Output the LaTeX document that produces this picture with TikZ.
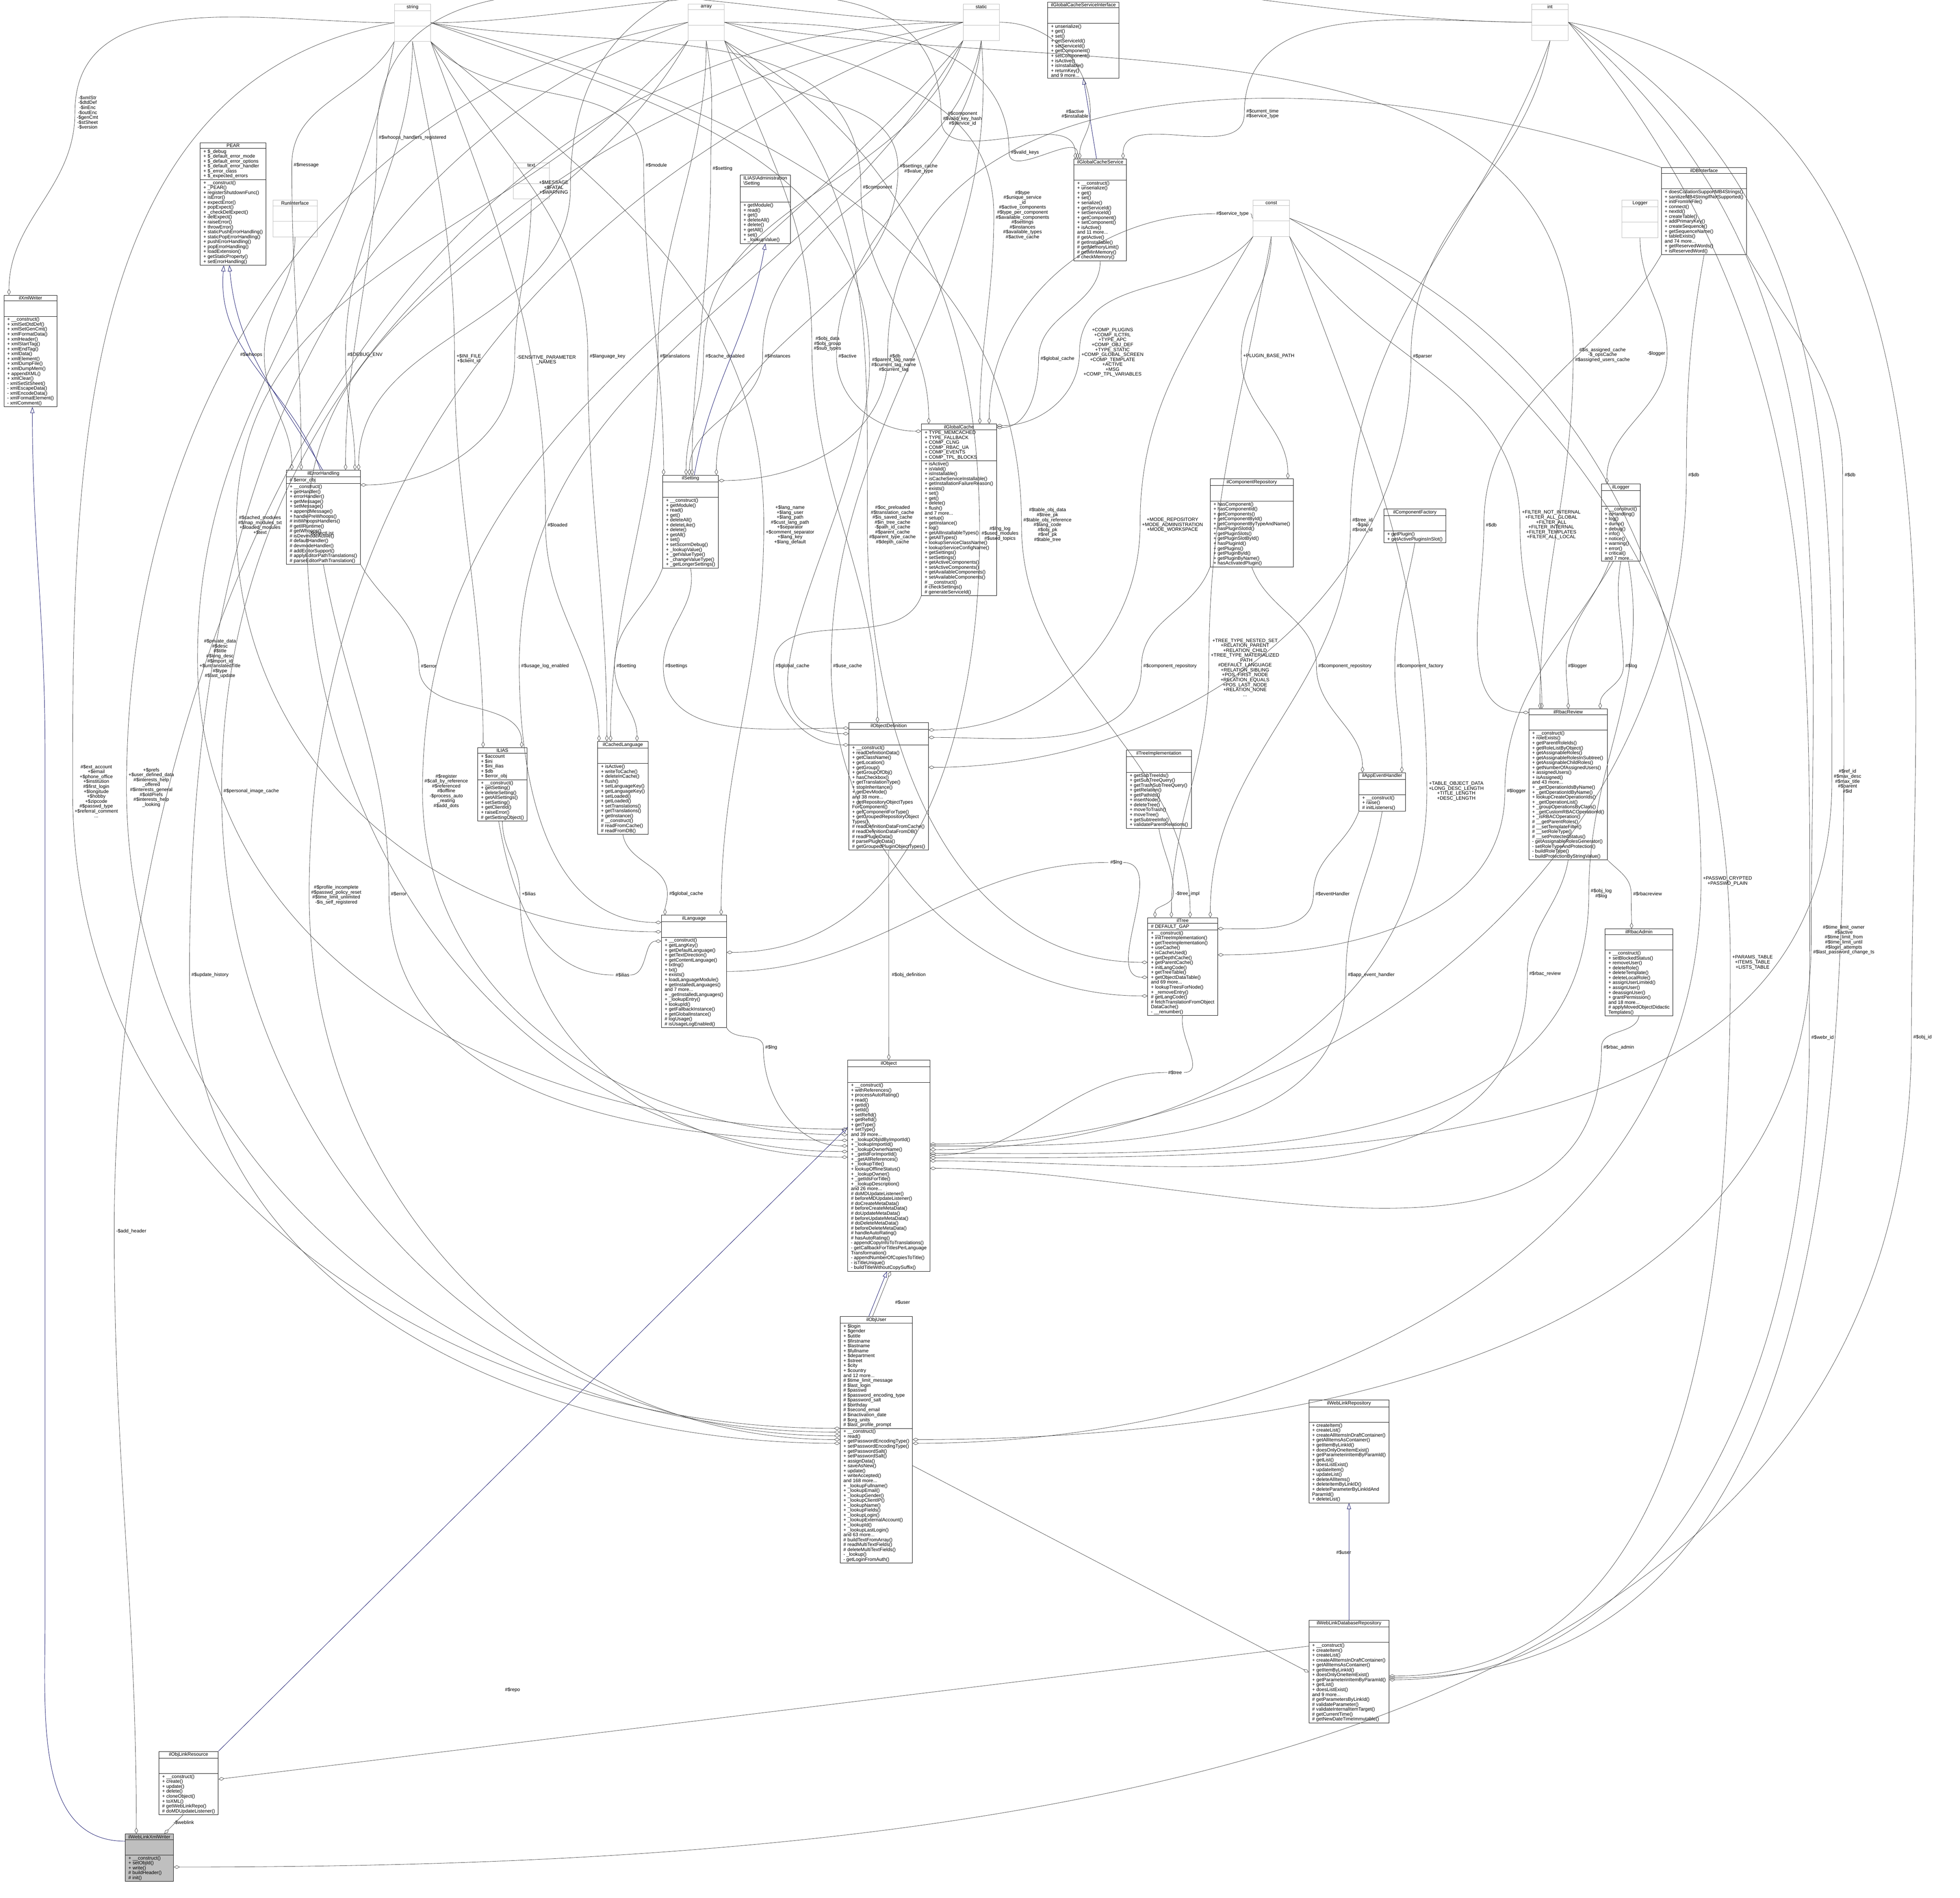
\documentclass[tikz,border=0pt]{standalone}
\usepackage{fontspec}
\setmainfont{Liberation Sans}
\usetikzlibrary{shapes.multipart,arrows.meta}
\definecolor{mblue}{HTML}{191970}
\definecolor{edg}{HTML}{404040}
\def\sfac{0.1495pt}
\tikzset{
  cls/.style={rectangle split, rectangle split parts=3, draw=black, line width=0.15pt,
    rectangle split ignore empty parts=false, rectangle split empty part height=1.35pt,
    rectangle split part align={center,left,left}, align=left, fill=white,
    inner xsep=1.3pt, inner ysep=0.37pt, font=\fontsize{1.93}{1.97}\selectfont, anchor=north west},
  sm/.style={rectangle split, rectangle split parts=3, draw=gray!55, line width=0.15pt,
    rectangle split ignore empty parts=false, rectangle split empty part height=1.65pt,
    minimum width=14.5pt, fill=white, inner ysep=0.37pt, font=\fontsize{1.93}{1.97}\selectfont, anchor=north},
  lab/.style={align=center, inner sep=0.15pt, font=\fontsize{1.93}{1.97}\selectfont},
  agg/.style={draw=edg, line width=0.13pt, -{Diamond[open,length=2.4pt,width=1.35pt]}},
  inh/.style={draw=mblue, line width=0.15pt, -{Triangle[open,length=2.4pt,width=1.65pt]}},
}
\begin{document}
\begin{tikzpicture}[x=0.5pt,y=0.5pt]
\useasboundingbox (0,0) rectangle (1568,-1518.3);
\fill[white] (0,0) rectangle (1568,-1518.3);

% ---------- small type boxes ----------
\node[sm] (string) at (330,-3) {string\nodepart{second}\nodepart{third}};
\node[sm] (array) at (565,-3) {array\nodepart{second}\nodepart{third}};
\node[sm] (static) at (785,-3) {static\nodepart{second}\nodepart{third}};
\node[sm] (int) at (1240,-3) {int\nodepart{second}\nodepart{third}};
\node[sm] (text) at (425,-130) {text\nodepart{second}\nodepart{third}};
\node[sm] (RunInterface) at (236,-160) {RunInterface\nodepart{second}\nodepart{third}};
\node[sm] (const) at (1017,-160) {const\nodepart{second}\nodepart{third}};
\node[sm] (Logger) at (1312,-160) {Logger\nodepart{second}\nodepart{third}};

% ---------- classes ----------
\node[cls] (ilGlobalCacheServiceInterface) at (838,-1.5) {ilGlobalCacheServiceInterface\nodepart{second}\nodepart{third}+ unserialize()\\+ get()\\+ set()\\+ getServiceId()\\+ setServiceId()\\+ getComponent()\\+ setComponent()\\+ isActive()\\+ isInstallable()\\+ returnKey()\\and 9 more...};

\node[cls] (ilGlobalCacheService) at (859,-127) {ilGlobalCacheService\nodepart{second}\nodepart{third}+ \_\_construct()\\+ unserialize()\\+ get()\\+ set()\\+ serialize()\\+ getServiceId()\\+ setServiceId()\\+ getComponent()\\+ setComponent()\\+ isActive()\\and 11 more...\\\# getActive()\\\# getInstallable()\\\# getMemoryLimit()\\\# getMinMemory()\\\# checkMemory()};

\node[cls] (PEAR) at (160,-114) {PEAR\nodepart{second}+ \$\_debug\\+ \$\_default\_error\_mode\\+ \$\_default\_error\_options\\+ \$\_default\_error\_handler\\+ \$\_error\_class\\+ \$\_expected\_errors\nodepart{third}+ \_\_construct()\\+ \_PEAR()\\+ registerShutdownFunc()\\+ isError()\\+ expectError()\\+ popExpect()\\+ \_checkDelExpect()\\+ delExpect()\\+ raiseError()\\+ throwError()\\+ staticPushErrorHandling()\\+ staticPopErrorHandling()\\+ pushErrorHandling()\\+ popErrorHandling()\\+ loadExtension()\\+ getStaticProperty()\\+ setErrorHandling()};

\node[cls] (ilXmlWriter) at (3,-236) {ilXmlWriter\nodepart{second}\nodepart{third}+ \_\_construct()\\+ xmlSetDtdDef()\\+ xmlSetGenCmt()\\+ xmlFormatData()\\+ xmlHeader()\\+ xmlStartTag()\\+ xmlEndTag()\\+ xmlData()\\+ xmlElement()\\+ xmlDumpFile()\\+ xmlDumpMem()\\+ appendXML()\\+ xmlClear()\\- xmlSetStSheet()\\- xmlEscapeData()\\- xmlEncodeData()\\- xmlFormatElement()\\- xmlComment()};

\node[cls] (ilAdmSetting) at (592,-140) {ILIAS\textbackslash Administration\\\textbackslash Setting\nodepart{second}\nodepart{third}+ getModule()\\+ read()\\+ get()\\+ deleteAll()\\+ delete()\\+ getAll()\\+ set()\\+ \_lookupValue()};

\node[cls] (ilDBInterface) at (1329,-134) {ilDBInterface\nodepart{second}\nodepart{third}+ doesCollationSupportMB4Strings()\\+ sanitizeMB4StringIfNotSupported()\\+ initFromIniFile()\\+ connect()\\+ nextId()\\+ createTable()\\+ addPrimaryKey()\\+ createSequence()\\+ getSequenceName()\\+ tableExists()\\and 74 more...\\+ getReservedWords()\\+ isReservedWord()};

\node[cls] (ilErrorHandling) at (229,-376) {ilErrorHandling\nodepart{second}\# \$error\_obj\nodepart{third}+ \_\_construct()\\+ getHandler()\\+ errorHandler()\\+ getMessage()\\+ setMessage()\\+ appendMessage()\\+ handlePreWhoops()\\\# initWhoopsHandlers()\\\# getIlRuntime()\\\# getWhoops()\\\# isDevmodeActive()\\\# defaultHandler()\\\# devmodeHandler()\\\# addEditorSupport()\\\# applyEditorPathTranslations()\\\# parseEditorPathTranslation()};

\node[cls] (ilSetting) at (530,-380) {ilSetting\nodepart{second}\nodepart{third}+ \_\_construct()\\+ getModule()\\+ read()\\+ get()\\+ deleteAll()\\+ deleteLike()\\+ delete()\\+ getAll()\\+ set()\\+ setScormDebug()\\+ \_lookupValue()\\+ \_getValueType()\\+ \_changeValueType()\\+ \_getLongerSettings()};

\node[cls] (ilGlobalCache) at (737,-339) {ilGlobalCache\nodepart{second}+ TYPE\_MEMCACHED\\+ TYPE\_FALLBACK\\+ COMP\_CLNG\\+ COMP\_RBAC\_UA\\+ COMP\_EVENTS\\+ COMP\_TPL\_BLOCKS\nodepart{third}+ isActive()\\+ isValid()\\+ isInstallable()\\+ isCacheServiceInstallable()\\+ getInstallationFailureReason()\\+ exists()\\+ set()\\+ get()\\+ delete()\\+ flush()\\and 7 more...\\+ setup()\\+ getInstance()\\+ log()\\+ getAllInstallableTypes()\\+ getAllTypes()\\+ lookupServiceClassName()\\+ lookupServiceConfigName()\\+ getSettings()\\+ setSettings()\\+ getActiveComponents()\\+ setActiveComponents()\\+ getAvailableComponents()\\+ setAvailableComponents()\\\# \_\_construct()\\\# checkSettings()\\\# generateServiceId()};

\node[cls] (ilComponentRepository) at (968,-383) {ilComponentRepository\nodepart{second}\nodepart{third}+ hasComponent()\\+ hasComponentId()\\+ getComponents()\\+ getComponentById()\\+ getComponentByTypeAndName()\\+ hasPluginSlotId()\\+ getPluginSlots()\\+ getPluginSlotById()\\+ hasPluginId()\\+ getPlugins()\\+ getPluginById()\\+ getPluginByName()\\+ hasActivatedPlugin()};

\node[cls] (ilComponentFactory) at (1107,-407) {ilComponentFactory\nodepart{second}\nodepart{third}+ getPlugin()\\+ getActivePluginsInSlot()};

\node[cls] (ilLogger) at (1281,-387) {ilLogger\nodepart{second}\nodepart{third}+ \_\_construct()\\+ isHandling()\\+ log()\\+ dump()\\+ debug()\\+ info()\\+ notice()\\+ warning()\\+ error()\\+ critical()\\and 7 more...};

\node[cls] (ilRbacReview) at (1223,-567) {ilRbacReview\nodepart{second}\nodepart{third}+ \_\_construct()\\+ roleExists()\\+ getParentRoleIds()\\+ getRoleListByObject()\\+ getAssignableRoles()\\+ getAssignableRolesInSubtree()\\+ getAssignableChildRoles()\\+ getNumberOfAssignedUsers()\\+ assignedUsers()\\+ isAssigned()\\and 43 more...\\+ \_getOperationIdsByName()\\+ \_getOperationIdByName()\\+ lookupCreateOperationIds()\\+ \_getOperationList()\\+ \_groupOperationsByClass()\\+ \_getCustomRBACOperationId()\\+ \_isRBACOperation()\\\# \_\_getParentRoles()\\\# \_\_setTemplateFilter()\\\# \_\_setRoleType()\\\# \_\_setProtectedStatus()\\- getAssignableRolesGenerator()\\- setRoleTypeAndProtection()\\- buildRoleType()\\- buildProtectionByStringValue()};

\node[cls] (ilRbacAdmin) at (1284,-743) {ilRbacAdmin\nodepart{second}\nodepart{third}+ \_\_construct()\\+ setBlockedStatus()\\+ removeUser()\\+ deleteRole()\\+ deleteTemplate()\\+ deleteLocalRole()\\+ assignUserLimited()\\+ assignUser()\\+ deassignUser()\\+ grantPermission()\\and 18 more...\\\# applyMovedObjectDidactic\\Templates()};

\node[cls] (ILIAS) at (382,-598) {ILIAS\nodepart{second}+ \$account\\+ \$ini\\+ \$ini\_ilias\\+ \$db\\+ \$error\_obj\nodepart{third}+ \_\_construct()\\+ getSetting()\\+ deleteSetting()\\+ getAllSettings()\\+ setSetting()\\+ getClientId()\\+ raiseError()\\\# getSettingObject()};

\node[cls] (ilCachedLanguage) at (478,-593) {ilCachedLanguage\nodepart{second}\nodepart{third}+ isActive()\\+ writeToCache()\\+ deleteInCache()\\+ flush()\\+ setLanguageKey()\\+ getLanguageKey()\\+ setLoaded()\\+ getLoaded()\\+ setTranslations()\\+ getTranslations()\\+ getInstance()\\\# \_\_construct()\\\# readFromCache()\\\# readFromDB()};

\node[cls] (ilObjectDefinition) at (679,-578) {ilObjectDefinition\nodepart{second}\nodepart{third}+ \_\_construct()\\+ readDefinitionData()\\+ getClassName()\\+ getLocation()\\+ getGroup()\\+ getGroupOfObj()\\+ hasCheckbox()\\+ getTranslationType()\\+ stopInheritance()\\+ getDevMode()\\and 38 more...\\+ getRepositoryObjectTypes\\ForComponent()\\+ getComponentForType()\\+ getGroupedRepositoryObject\\Types()\\\# readDefinitionDataFromCache()\\\# readDefinitionDataFromDB()\\\# readPluginData()\\\# parsePluginData()\\\# getGroupedPluginObjectTypes()};

\node[cls] (ilTreeImplementation) at (901,-600) {ilTreeImplementation\nodepart{second}\nodepart{third}+ getSubTreeIds()\\+ getSubTreeQuery()\\+ getTrashSubTreeQuery()\\+ getRelation()\\+ getPathIds()\\+ insertNode()\\+ deleteTree()\\+ moveToTrash()\\+ moveTree()\\+ getSubtreeInfo()\\+ validateParentRelations()};

\node[cls] (ilAppEventHandler) at (1087,-618) {ilAppEventHandler\nodepart{second}\nodepart{third}+ \_\_construct()\\+ raise()\\\# initListeners()};

\node[cls] (ilTree) at (918,-734) {ilTree\nodepart{second}\# DEFAULT\_GAP\nodepart{third}+ \_\_construct()\\+ initTreeImplementation()\\+ getTreeImplementation()\\+ useCache()\\+ isCacheUsed()\\+ getDepthCache()\\+ getParentCache()\\+ initLangCode()\\+ getTreeTable()\\+ getObjectDataTable()\\and 69 more...\\+ lookupTreesForNode()\\+ \_removeEntry()\\\# getLangCode()\\\# fetchTranslationFromObject\\DataCache()\\- \_\_renumber()};

\node[cls] (ilLanguage) at (529,-732) {ilLanguage\nodepart{second}\nodepart{third}+ \_\_construct()\\+ getLangKey()\\+ getDefaultLanguage()\\+ getTextDirection()\\+ getContentLanguage()\\+ txtlng()\\+ txt()\\+ exists()\\+ loadLanguageModule()\\+ getInstalledLanguages()\\and 7 more...\\+ \_getInstalledLanguages()\\+ \_lookupEntry()\\+ lookupId()\\+ getFallbackInstance()\\+ getGlobalInstance()\\\# logUsage()\\\# isUsageLogEnabled()};

\node[cls] (ilObject) at (678,-848) {ilObject\nodepart{second}\nodepart{third}+ \_\_construct()\\+ withReferences()\\+ processAutoRating()\\+ read()\\+ getId()\\+ setId()\\+ setRefId()\\+ getRefId()\\+ getType()\\+ setType()\\and 39 more...\\+ \_lookupObjIdByImportId()\\+ \_lookupImportId()\\+ \_lookupOwnerName()\\+ \_getIdForImportId()\\+ \_getAllReferences()\\+ \_lookupTitle()\\+ lookupOfflineStatus()\\+ \_lookupOwner()\\+ \_getIdsForTitle()\\+ \_lookupDescription()\\and 26 more...\\\# doMDUpdateListener()\\\# beforeMDUpdateListener()\\\# doCreateMetaData()\\\# beforeCreateMetaData()\\\# doUpdateMetaData()\\\# beforeUpdateMetaData()\\\# doDeleteMetaData()\\\# beforeDeleteMetaData()\\\# handleAutoRating()\\\# hasAutoRating()\\- appendCopyInfoToTranslations()\\- getCallbackForTitlesPerLanguage\\Transformation()\\- appendNumberOfCopiesToTitle()\\- isTitleUnique()\\- buildTitleWithoutCopySuffix()};

\node[cls] (ilObjUser) at (672,-1053) {ilObjUser\nodepart{second}+ \$login\\+ \$gender\\+ \$utitle\\+ \$firstname\\+ \$lastname\\+ \$fullname\\+ \$department\\+ \$street\\+ \$city\\+ \$country\\and 12 more...\\\# \$time\_limit\_message\\\# \$last\_login\\\# \$passwd\\\# \$password\_encoding\_type\\\# \$password\_salt\\\# \$birthday\\\# \$second\_email\\\# \$inactivation\_date\\\# \$org\_units\\\# \$last\_profile\_prompt\nodepart{third}+ \_\_construct()\\+ read()\\+ getPasswordEncodingType()\\+ setPasswordEncodingType()\\+ getPasswordSalt()\\+ setPasswordSalt()\\+ assignData()\\+ saveAsNew()\\+ update()\\+ writeAccepted()\\and 168 more...\\+ \_lookupFullname()\\+ \_lookupEmail()\\+ \_lookupGender()\\+ \_lookupClientIP()\\+ \_lookupName()\\+ \_lookupFields()\\+ \_lookupLogin()\\+ \_lookupExternalAccount()\\+ \_lookupId()\\+ \_lookupLastLogin()\\and 63 more...\\\# buildTextFromArray()\\\# readMultiTextFields()\\\# deleteMultiTextFields()\\- \_lookup()\\- getLoginFromAuth()};

\node[cls] (ilWebLinkRepository) at (1047,-1120) {ilWebLinkRepository\nodepart{second}\nodepart{third}+ createItem()\\+ createList()\\+ createAllItemsInDraftContainer()\\+ getAllItemsAsContainer()\\+ getItemByLinkId()\\+ doesOnlyOneItemExist()\\+ getParameterinItemByParamId()\\+ getList()\\+ doesListExist()\\+ updateItem()\\+ updateList()\\+ deleteAllItems()\\+ deleteItemByLinkID()\\+ deleteParameterByLinkIdAnd\\ParamId()\\+ deleteList()};

\node[cls] (ilWebLinkDatabaseRepository) at (1047,-1296) {ilWebLinkDatabaseRepository\nodepart{second}\nodepart{third}+ \_\_construct()\\+ createItem()\\+ createList()\\+ createAllItemsInDraftContainer()\\+ getAllItemsAsContainer()\\+ getItemByLinkId()\\+ doesOnlyOneItemExist()\\+ getParameterinItemByParamId()\\+ getList()\\+ doesListExist()\\and 9 more...\\\# getParametersByLinkId()\\\# validateParameter()\\\# validateInternalItemTarget()\\\# getCurrentTime()\\\# getNewDateTimeImmutable()};

\node[cls] (ilObjLinkResource) at (127,-1401) {ilObjLinkResource\nodepart{second}\nodepart{third}+ \_\_construct()\\+ create()\\+ update()\\+ delete()\\+ cloneObject()\\+ toXML()\\\# getWebLinkRepo()\\\# doMDUpdateListener()};

\node[cls, fill=gray!50] (ilWebLinkXmlWriter) at (100,-1467) {ilWebLinkXmlWriter\nodepart{second}\nodepart{third}+ \_\_construct()\\+ setObjId()\\+ write()\\\# buildHeader()\\\# init()};

% ---------- labels ----------
\node[lab] (l1) at (70,-90) {-\$xmlStr\\-\$dtdDef\\-\$inEnc\\-\$outEnc\\-\$genCmt\\-\$stSheet\\-\$version};
\node[lab] (l2) at (201,-284) {\#\$whoops};
\node[lab] (l3) at (292,-284) {\#\$DEBUG\_ENV};
\node[lab] (l4) at (330,-110) {\#\$whoops\_handlers\_registered};
\node[lab] (l5) at (245,-132) {\#\$message};
\node[lab] (l6) at (375,-287) {+\$INI\_FILE\\+\$client\_id};
\node[lab] (l7) at (437,-288) {-SENSITIVE\_PARAMETER\\\_NAMES};
\node[lab] (l8) at (443,-150) {+\$MESSAGE\\+\$FATAL\\+\$WARNING};
\node[lab] (l9) at (486,-285) {\#\$language\_key};
\node[lab] (l10) at (540,-285) {\#\$translations};
\node[lab] (l11) at (446,-420) {\#\$loaded};
\node[lab] (l12) at (580,-285) {\#\$cache\_disabled};
\node[lab] (l13) at (622,-285) {\#\$instances};
\node[lab] (l14) at (678,-285) {\#\$active};
\node[lab] (l15) at (525,-132) {\#\$module};
\node[lab] (l16) at (578,-135) {\#\$setting};
\node[lab] (l17) at (735,-135) {\#\$settings\_cache\\\#\$value\_type};
\node[lab] (l18) at (770,-95) {\#\$component\\\#\$valid\_key\_hash\\\#\$service\_id};
\node[lab] (l19) at (820,-122) {\#\$valid\_keys};
\node[lab] (l20) at (860,-91) {\#\$active\\\#\$installable};
\node[lab] (l21) at (1010,-91) {\#\$current\_time\\\#\$service\_type};
\node[lab] (l22) at (986,-171) {\#\$service\_type};
\node[lab] (l23) at (702,-150) {\#\$component};
\node[lab] (l24) at (818,-172) {\#\$type\\\#\$unique\_service\\\_id\\\#\$active\_components\\\#\$type\_per\_component\\\#\$available\_components\\\#\$settings\\\#\$instances\\\#\$available\_types\\\#\$active\_cache};
\node[lab] (l25) at (846,-287) {\#\$global\_cache};
\node[lab] (l26) at (716,-285) {\#\$db};
\node[lab] (l28) at (662,-275) {\#\$obj\_data\\\#\$obj\_group\\\#\$sub\_types};
\node[lab] (l27b) at (715,-292) {\#\$parent\_tag\_name\\\#\$current\_tag\_name\\\#\$current\_tag};
\node[lab] (l29) at (890,-282) {+COMP\_PLUGINS\\+COMP\_ILCTRL\\+TYPE\_APC\\+COMP\_OBJ\_DEF\\+TYPE\_STATIC\\+COMP\_GLOBAL\_SCREEN\\+COMP\_TEMPLATE\\+ACTIVE\\+MSG\\+COMP\_TPL\_VARIABLES};
\node[lab] (l30) at (1015,-285) {+PLUGIN\_BASE\_PATH};
\node[lab] (l31) at (1138,-285) {\#\$parser};
\node[lab] (l32) at (1325,-283) {-\$logger};
\node[lab] (l33) at (1282,-284) {\#\$is\_assigned\_cache\\-\$\_opsCache\\\#\$assigned\_users\_cache};
\node[lab] (l34) at (1241,-420) {+FILTER\_NOT\_INTERNAL\\+FILTER\_ALL\_GLOBAL\\+FILTER\_ALL\\+FILTER\_INTERNAL\\+FILTER\_TEMPLATES\\+FILTER\_ALL\_LOCAL};
\node[lab] (l35) at (1193,-420) {\#\$db};
\node[lab] (l36) at (1262,-533) {\#\$logger};
\node[lab] (l37) at (1305,-533) {\#\$log};
\node[lab] (l38) at (1213,-633) {\#\$logger};
\node[lab] (l39) at (1281,-715) {\#\$obj\_log\\\#\$log};
\node[lab] (l40) at (1318,-715) {\#\$rbacreview};
\node[lab] (l41) at (1236,-779) {\#\$rbac\_review};
\node[lab] (l42) at (1295,-838) {\#\$rbac\_admin};
\node[lab] (l43) at (938,-420) {+MODE\_REPOSITORY\\+MODE\_ADMINISTRATION\\+MODE\_WORKSPACE};
\node[lab] (l44) at (1090,-420) {\#\$tree\_id\\-\$gap\\\#\$root\_id};
\node[lab] (l45) at (936,-533) {\#\$component\_repository};
\node[lab] (l46) at (1076,-533) {\#\$component\_repository};
\node[lab] (l47) at (1136,-533) {\#\$component\_factory};
\node[lab] (l48) at (996,-534) {+TREE\_TYPE\_NESTED\_SET\\+RELATION\_PARENT\\+RELATION\_CHILD\\+TREE\_TYPE\_MATERIALIZED\\\_PATH\\\#DEFAULT\_LANGUAGE\\+RELATION\_SIBLING\\+POS\_FIRST\_NODE\\+RELATION\_EQUALS\\+POS\_LAST\_NODE\\+RELATION\_NONE\\...};
\node[lab] (l49) at (1165,-633) {+TABLE\_OBJECT\_DATA\\+LONG\_DESC\_LENGTH\\+TITLE\_LENGTH\\+DESC\_LENGTH};
\node[lab] (l50) at (950,-715) {-\$tree\_impl};
\node[lab] (l51) at (1066,-715) {\#\$eventHandler};
\node[lab] (l52) at (1097,-780) {\#\$app\_event\_handler};
\node[lab] (l53) at (549,-715) {\#\$global\_cache};
\node[lab] (l54) at (423,-715) {+\$ilias};
\node[lab] (l55) at (498,-780) {\#\$ilias};
\node[lab] (l56) at (727,-780) {\#\$obj\_definition};
\node[lab] (l57) at (617,-838) {\#\$lng};
\node[lab] (l58) at (632,-420) {+\$lang\_name\\+\$lang\_user\\+\$lang\_path\\\#\$cust\_lang\_path\\+\$separator\\+\$comment\_separator\\+\$lang\_key\\+\$lang\_default};
\node[lab] (l59) at (714,-420) {\#\$oc\_preloaded\\\#\$translation\_cache\\\#\$is\_saved\_cache\\\#\$in\_tree\_cache\\-\$path\_id\_cache\\\#\$parent\_cache\\\#\$parent\_type\_cache\\\#\$depth\_cache};
\node[lab] (l60) at (436,-533) {\#\$usage\_log\_enabled};
\node[lab] (l61) at (501,-533) {\#\$setting};
\node[lab] (l62) at (541,-533) {\#\$settings};
\node[lab] (l63) at (634,-533) {\#\$global\_cache};
\node[lab] (l64) at (678,-533) {\#\$use\_cache};
\node[lab] (l65) at (343,-533) {\#\$error};
\node[lab] (l66) at (357,-633) {\#\$register\\\#\$call\_by\_reference\\\#\$referenced\\\#\$offline\\-\$process\_auto\\\_reating\\\#\$add\_dots};
\node[lab] (l67) at (77,-633) {\#\$ext\_account\\+\$email\\+\$phone\_office\\+\$institution\\\#\$first\_login\\+\$longitude\\+\$hobby\\+\$zipcode\\\#\$passwd\_type\\+\$referral\_comment\\...};
\node[lab] (l68) at (121,-630) {+\$prefs\\+\$user\_defined\_data\\\#\$interests\_help\\\_offered\\\#\$interests\_general\\\#\$oldPrefs\\\#\$interests\_help\\\_looking};
\node[lab] (l69) at (201,-633) {\#\$personal\_image\_cache};
\node[lab] (l70) at (269,-716) {\#\$profile\_incomplete\\\#\$passwd\_policy\_reset\\\#\$time\_limit\_unlimited\\-\$is\_self\_registered};
\node[lab] (l71) at (319,-715) {\#\$error};
\node[lab] (l72) at (168,-780) {\#\$update\_history};
\node[lab] (l73) at (257,-427) {-\$objectList};
\node[lab] (l74) at (208,-420) {\#\$cached\_modules\\\#\$map\_modules\_txt\\+\$loaded\_modules\\+\$text};
\node[lab] (l75) at (176,-527) {\#\$private\_data\\\#\$desc\\\#\$title\\\#\$long\_desc\\\#\$import\_id\\+\$untranslatedTitle\\\#\$type\\\#\$last\_update};
\node[lab] (l76) at (800,-427) {\#\$lng\_log\\\#\$used\_modules\\\#\$used\_topics};
\node[lab] (l77) at (838,-420) {\#\$table\_obj\_data\\\#\$tree\_pk\\\#\$table\_obj\_reference\\\#\$lang\_code\\\#\$obj\_pk\\\#\$ref\_pk\\\#\$table\_tree};
\node[lab] (l78) at (893,-690) {\#\$lng};
\node[lab] (l79) at (940,-858) {\#\$tree};
\node[lab] (l80) at (1478,-625) {\#\$ref\_id\\\#\$max\_desc\\\#\$max\_title\\\#\$parent\\\#\$id};
\node[lab] (l81) at (1475,-752) {\#\$time\_limit\_owner\\\#\$active\\\#\$time\_limit\_from\\\#\$time\_limit\_until\\\#\$login\_attempts\\\#\$last\_password\_change\_ts};
\node[lab] (l82) at (1458,-830) {\#\$webr\_id};
\node[lab] (l83) at (1538,-830) {\#\$obj\_id};
\node[lab] (l84) at (1382,-705) {+PASSWD\_CRYPTED\\+PASSWD\_PLAIN};
\node[lab] (l85) at (1402,-770) {+PARAMS\_TABLE\\+ITEMS\_TABLE\\+LISTS\_TABLE};
\node[lab] (l86) at (722,-1042) {\#\$user};
\node[lab] (l87) at (1075,-1242) {\#\$user};
\node[lab] (l88) at (410,-1352) {\#\$repo};
\node[lab] (l89) at (147,-1458) {-\$weblink};
\node[lab] (l90) at (105,-985) {-\$add\_header};
\node[lab] (l91) at (1355,-380) {\#\$db};
\node[lab] (l92) at (1480,-380) {\#\$db};

% ---------- inheritance ----------
\draw[inh] ([xshift=-10*\sfac]ilGlobalCacheService.north) -- (ilGlobalCacheServiceInterface.south);
\draw[inh] ([xshift=-8*\sfac]ilErrorHandling.north) to[out=110,in=-95] ([xshift=-25*\sfac]PEAR.south);
\draw[inh] ([xshift=-2*\sfac]ilErrorHandling.north) to[out=120,in=-85] ([xshift=-10*\sfac]PEAR.south);
\draw[inh] ([xshift=10*\sfac]ilSetting.north) to[out=80,in=-100] (ilAdmSetting.south);
\draw[inh] ([xshift=-20*\sfac]ilObjUser.north) -- ([xshift=-5*\sfac]ilObject.south);
\draw[inh] (ilWebLinkDatabaseRepository.north) -- (ilWebLinkRepository.south);
\draw[inh] (ilObjLinkResource.north east) -- ([yshift=-180*\sfac]ilObject.north west);
\draw[inh] ([yshift=-20*\sfac]ilWebLinkXmlWriter.north west) to[out=180,in=-90] (36,-1300) -- (36,-600) to[out=90,in=-90] ([xshift=5*\sfac]ilXmlWriter.south);

% ---------- aggregations ----------
\draw[agg] (string.west) to[out=180,in=90] ([xshift=-3*\sfac]l1.west) to[out=-90,in=90] ([xshift=14*\sfac]ilXmlWriter.north west);
\draw[agg] (RunInterface.south) to[out=-90,in=90] ([xshift=3*\sfac]l2.east) to[out=-90,in=90] ([xshift=15*\sfac]ilErrorHandling.north west);
\draw[agg] (string.south) to[out=-90,in=90] ([xshift=-3*\sfac]l3.west) to[out=-90,in=90] ([xshift=-15*\sfac]ilErrorHandling.north east);
\draw[agg] (static.west) to[out=180,in=90] ([xshift=-3*\sfac]l4.west) to[out=-90,in=90] ([xshift=-40*\sfac]ilErrorHandling.north east);
\draw[agg] (string.south west) to[out=-120,in=90] ([xshift=-3*\sfac]l5.west) to[out=-90,in=90] ([xshift=40*\sfac]ilErrorHandling.north west);
\draw[agg] (string.south) to[out=-80,in=90] ([xshift=-3*\sfac]l6.west) to[out=-90,in=90] ([xshift=15*\sfac]ILIAS.north west);
\draw[agg] (text.south) to[out=-90,in=90] ([xshift=-3*\sfac]l7.west) to[out=-90,in=0] ([yshift=-40*\sfac]ilErrorHandling.north east);
\draw[agg] (int.west) to[out=180,in=90] ([xshift=3*\sfac]l8.east) to[out=-90,in=90] ([xshift=-5*\sfac]ilErrorHandling.north east);
\draw[agg] (string.south east) to[out=-60,in=90] ([xshift=-3*\sfac]l9.west) to[out=-90,in=90] ([xshift=25*\sfac]ilCachedLanguage.north west);
\draw[agg] (array.south) to[out=-90,in=90] ([xshift=-3*\sfac]l10.west) to[out=-90,in=90] ([xshift=35*\sfac]ilCachedLanguage.north west);
\draw[agg] (string.south east) to[out=-70,in=90] ([xshift=-3*\sfac]l11.west) to[out=-90,in=90] ([xshift=4*\sfac]ilCachedLanguage.north west);
\draw[agg] (static.south west) to[out=-110,in=90] ([xshift=-3*\sfac]l12.west) to[out=-90,in=90] ([xshift=-12*\sfac]ilSetting.north);
\draw[agg] (static.south) to[out=-100,in=90] ([xshift=-3*\sfac]l13.west) to[out=-90,in=90] ([xshift=-3*\sfac]ilSetting.north);
\draw[agg] (static.south) to[out=-95,in=90] ([xshift=-3*\sfac]l14.west) to[out=-90,in=180] ([yshift=-20*\sfac]ilGlobalCache.north west);
\draw[agg] (string.south east) to[out=-50,in=90] ([xshift=-3*\sfac]l15.west) to[out=-90,in=90] ([xshift=3*\sfac]ilSetting.north west);
\draw[agg] (array.south) to[out=-80,in=90] ([xshift=-3*\sfac]l16.west) to[out=-90,in=90] ([xshift=4*\sfac]ilSetting.north);
\draw[agg] (array.south east) to[out=-60,in=90] ([xshift=-3*\sfac]l17.west) to[out=-90,in=90] ([xshift=-6*\sfac]ilSetting.north east);
\draw[agg] (string.east) to[out=0,in=90] ([xshift=-3*\sfac]l18.west) to[out=-90,in=90] ([xshift=4*\sfac]ilGlobalCacheService.north west);
\draw[agg] (array.east) to[out=0,in=90] ([xshift=-3*\sfac]l19.west) to[out=-90,in=90] ([xshift=10*\sfac]ilGlobalCacheService.north west);
\draw[agg] (static.east) to[out=0,in=90] ([xshift=3*\sfac]l20.east) to[out=-90,in=90] ([xshift=16*\sfac]ilGlobalCacheService.north west);
\draw[agg] (int.west) to[out=180,in=90] ([xshift=-3*\sfac]l21.west) to[out=-90,in=90] ([xshift=-10*\sfac]ilGlobalCacheService.north east);
\draw[agg] (const.west) to[out=180,in=0] ([xshift=3*\sfac]l22.east) (l22.west) to[out=180,in=90] ([xshift=-20*\sfac]ilGlobalCache.north east);
\draw[agg] (string.east) to[out=-10,in=90] ([xshift=-3*\sfac]l23.west) to[out=-90,in=90] ([xshift=20*\sfac]ilGlobalCache.north west);
\draw[agg] (array.east) to[out=-20,in=90] ([xshift=-3*\sfac]l24.west) to[out=-90,in=90] ([xshift=-45*\sfac]ilGlobalCache.north east);
\draw[agg] (ilGlobalCacheService.south) to[out=-90,in=90] ([xshift=-3*\sfac]l25.west) to[out=-90,in=0] ([yshift=-10*\sfac]ilGlobalCache.north east);
\draw[agg] (ilDBInterface.north west) to[out=160,in=90] ([xshift=-3*\sfac]l26.west) to[out=-90,in=0] ([yshift=-15*\sfac]ilSetting.north east);
\draw[agg] (array.south east) to[out=-70,in=90] ([xshift=-3*\sfac]l28.west) to[out=-90,in=90] ([xshift=-30*\sfac]ilObjectDefinition.north);
\draw[agg] (string.east) to[out=-20,in=90] ([xshift=-3*\sfac]l27b.west) to[out=-90,in=180] ([yshift=-30*\sfac]ilObjectDefinition.north west);
\draw[agg] (const.south west) to[out=-130,in=90] ([xshift=-3*\sfac]l29.west) to[out=-90,in=0] ([yshift=-5*\sfac]ilGlobalCache.north east);
\draw[agg] (const.south) to[out=-90,in=90] ([xshift=-3*\sfac]l30.west) to[out=-90,in=90] ([xshift=-15*\sfac]ilComponentRepository.north east);
\draw[agg] (int.south) to[out=-100,in=90] ([xshift=-3*\sfac]l31.west) to[out=-90,in=0] ([yshift=-120*\sfac]ilObjectDefinition.north east);
\draw[agg] (Logger.south) to[out=-90,in=90] ([xshift=3*\sfac]l32.east) to[out=-90,in=90] ([xshift=15*\sfac]ilLogger.north west);
\draw[agg] (array.east) to[out=-10,in=90] ([xshift=-3*\sfac]l33.west) to[out=-90,in=90] ([xshift=30*\sfac]ilRbacReview.north west);
\draw[agg] (const.south east) to[out=-60,in=90] ([xshift=-3*\sfac]l34.west) to[out=-90,in=90] ([xshift=35*\sfac]ilRbacReview.north west);
\draw[agg] (ilDBInterface.south west) to[out=-120,in=90] ([xshift=-3*\sfac]l35.west) to[out=-90,in=180] ([yshift=-10*\sfac]ilRbacReview.north west);
\draw[agg] ([xshift=-30*\sfac]ilLogger.south) to[out=-110,in=90] ([xshift=-3*\sfac]l36.west) to[out=-90,in=90] (ilRbacReview.north);
\draw[agg] (ilLogger.south) to[out=-100,in=90] ([xshift=-3*\sfac]l37.west) to[out=-90,in=90] ([xshift=-20*\sfac]ilRbacReview.north east);
\draw[agg] ([xshift=-20*\sfac]ilLogger.south) to[out=-120,in=90] ([xshift=-3*\sfac]l38.west) to[out=-90,in=0] ([yshift=-100*\sfac]ilTree.north east);
\draw[agg] ([xshift=20*\sfac]ilLogger.south) to[out=-80,in=90] ([xshift=-3*\sfac]l39.west) to[out=-90,in=0] ([yshift=-250*\sfac]ilObject.north east);
\draw[agg] (ilRbacReview.south east) to[out=-45,in=90] ([xshift=-3*\sfac]l40.west) to[out=-90,in=90] ([xshift=-20*\sfac]ilRbacAdmin.north);
\draw[agg] (ilRbacReview.south) to[out=-100,in=90] ([xshift=-3*\sfac]l41.west) to[out=-90,in=0] ([yshift=-270*\sfac]ilObject.north east);
\draw[agg] (ilRbacAdmin.south) to[out=-100,in=90] ([xshift=-3*\sfac]l42.west) to[out=-90,in=0] ([yshift=-290*\sfac]ilObject.north east);
\draw[agg] (const.south west) to[out=-120,in=90] ([xshift=-3*\sfac]l43.west) to[out=-90,in=0] ([yshift=-20*\sfac]ilObjectDefinition.north east);
\draw[agg] (int.south) to[out=-110,in=90] ([xshift=-3*\sfac]l44.west) to[out=-90,in=90] ([xshift=-20*\sfac]ilTree.north east);
\draw[agg] (ilComponentRepository.south west) to[out=-110,in=90] ([xshift=-3*\sfac]l45.west) to[out=-90,in=0] ([yshift=-40*\sfac]ilObjectDefinition.north east);
\draw[agg] (ilComponentRepository.south) to[out=-70,in=90] ([xshift=-3*\sfac]l46.west) to[out=-90,in=90] ([xshift=10*\sfac]ilAppEventHandler.north west);
\draw[agg] (ilComponentFactory.south) to[out=-100,in=90] ([xshift=-3*\sfac]l47.west) to[out=-90,in=90] ([xshift=-10*\sfac]ilAppEventHandler.north east);
\draw[agg] (const.south) to[out=-100,in=90] ([xshift=-3*\sfac]l48.west) to[out=-90,in=90] ([xshift=-30*\sfac]ilTree.north);
\draw[agg] (const.south east) to[out=-70,in=90] ([xshift=-3*\sfac]l49.west) to[out=-90,in=0] ([yshift=-240*\sfac]ilObject.north east);
\draw[agg] (ilTreeImplementation.south) to[out=-80,in=90] ([xshift=-3*\sfac]l50.west) to[out=-90,in=90] ([xshift=20*\sfac]ilTree.north west);
\draw[agg] (ilAppEventHandler.south west) to[out=-110,in=90] ([xshift=-3*\sfac]l51.west) to[out=-90,in=0] ([yshift=-30*\sfac]ilTree.north east);
\draw[agg] (ilAppEventHandler.south) to[out=-100,in=90] ([xshift=-3*\sfac]l52.west) to[out=-90,in=0] ([yshift=-230*\sfac]ilObject.north east);
\draw[agg] (ilCachedLanguage.south) to[out=-80,in=90] ([xshift=-3*\sfac]l53.west) to[out=-90,in=90] ([xshift=10*\sfac]ilLanguage.north west);
\draw[agg] (ILIAS.south) to[out=-90,in=90] ([xshift=-3*\sfac]l54.west) to[out=-90,in=180] ([yshift=-260*\sfac]ilObject.north west);
\draw[agg] ([xshift=-10*\sfac]ILIAS.south) to[out=-80,in=180] ([xshift=-3*\sfac]l55.west) (l55.east) to[out=0,in=180] ([yshift=-70*\sfac]ilLanguage.north west);
\draw[agg] (ilObjectDefinition.south) -- (ilObject.north);
\draw[agg] (ilLanguage.south east) to[out=-60,in=90] ([xshift=-3*\sfac]l57.west) to[out=-90,in=180] ([yshift=-230*\sfac]ilObject.north west);
\draw[agg] (string.south east) to[out=-40,in=90] ([xshift=-3*\sfac]l58.west) to[out=-90,in=90] ([xshift=-15*\sfac]ilLanguage.north east);
\draw[agg] (array.south east) to[out=-40,in=90] ([xshift=-3*\sfac]l59.west) to[out=-90,in=180] ([yshift=-120*\sfac]ilTree.north west);
\draw[agg] (static.south west) to[out=-120,in=90] ([xshift=-3*\sfac]l60.west) to[out=-90,in=180] ([yshift=-20*\sfac]ilLanguage.north west);
\draw[agg] (ilSetting.south west) to[out=-110,in=90] ([xshift=-3*\sfac]l61.west) to[out=-90,in=90] ([xshift=-30*\sfac]ilCachedLanguage.north east);
\draw[agg] (ilSetting.south) to[out=-80,in=90] ([xshift=-3*\sfac]l62.west) to[out=-90,in=180] ([yshift=-15*\sfac]ilObjectDefinition.north west);
\draw[agg] (ilGlobalCache.south west) to[out=-110,in=90] ([xshift=-3*\sfac]l63.west) to[out=-90,in=180] ([yshift=-60*\sfac]ilObjectDefinition.north west);
\draw[agg] (static.south) to[out=-85,in=90] ([xshift=-3*\sfac]l64.west) to[out=-90,in=180] ([yshift=-210*\sfac]ilTree.north west);
\draw[agg] (ilErrorHandling.south east) to[out=-60,in=90] ([xshift=-3*\sfac]l65.west) to[out=-90,in=90] ([xshift=-15*\sfac]ILIAS.north east);
\draw[agg] (static.south west) to[out=-130,in=90] ([xshift=-3*\sfac]l66.west) to[out=-90,in=180] ([yshift=-200*\sfac]ilObject.north west);
\draw[agg] (string.west) to[out=190,in=90] ([xshift=-3*\sfac]l67.west) to[out=-90,in=180] ([yshift=-300*\sfac]ilObjUser.north west);
\draw[agg] (array.west) to[out=190,in=90] ([xshift=-3*\sfac]l68.west) to[out=-90,in=180] ([yshift=-310*\sfac]ilObjUser.north west);
\draw[agg] (static.west) to[out=190,in=90] ([xshift=-3*\sfac]l69.west) to[out=-90,in=180] ([yshift=-320*\sfac]ilObjUser.north west);
\draw[agg] (static.west) to[out=200,in=90] ([xshift=-3*\sfac]l70.west) to[out=-90,in=180] ([yshift=-330*\sfac]ilObjUser.north west);
\draw[agg] (ilErrorHandling.south) to[out=-80,in=90] ([xshift=-3*\sfac]l71.west) to[out=-90,in=180] ([yshift=-215*\sfac]ilObject.north west);
\draw[agg] (array.west) to[out=200,in=90] ([xshift=-3*\sfac]l72.west) to[out=-90,in=180] ([yshift=-340*\sfac]ilObjUser.north west);
\draw[agg] (array.south west) to[out=-120,in=90] ([xshift=-3*\sfac]l73.west) to[out=-90,in=180] ([yshift=-245*\sfac]ilObject.north west);
\draw[agg] (array.south west) to[out=-130,in=90] ([xshift=-3*\sfac]l74.west) to[out=-90,in=180] ([yshift=-45*\sfac]ilLanguage.north west);
\draw[agg] (string.south west) to[out=-100,in=90] ([xshift=-3*\sfac]l75.west) to[out=-90,in=180] ([yshift=-185*\sfac]ilObject.north west);
\draw[agg] (array.south east) to[out=-30,in=90] ([xshift=-3*\sfac]l76.west) to[out=-90,in=0] ([yshift=-100*\sfac]ilLanguage.north east);
\draw[agg] (string.east) to[out=-15,in=90] ([xshift=-3*\sfac]l77.west) to[out=-90,in=90] ([xshift=20*\sfac]ilTree.north);
\draw[agg] (ilLanguage.east) to[out=0,in=180] ([xshift=-3*\sfac]l78.west) (l78.east) to[out=0,in=180] ([yshift=-160*\sfac]ilTree.north west);
\draw[agg] (ilTree.south) to[out=-100,in=0] ([xshift=3*\sfac]l79.east) (l79.west) to[out=180,in=0] ([yshift=-255*\sfac]ilObject.north east);
\draw[agg] (int.east) to[out=-30,in=90] ([xshift=-3*\sfac]l80.west) to[out=-90,in=0] ([yshift=-262*\sfac]ilObject.north east);
\draw[agg] (int.east) to[out=-40,in=90] ([xshift=-3*\sfac]l81.west) to[out=-90,in=0] ([yshift=-330*\sfac]ilObjUser.north east);
\draw[agg] (int.east) to[out=-50,in=90] ([xshift=-3*\sfac]l82.west) to[out=-90,in=0] ([yshift=-160*\sfac]ilWebLinkDatabaseRepository.north east);
\draw[agg] (int.east) to[out=-10,in=90] ([xshift=-3*\sfac]l83.west) to[out=-90,in=0] ([yshift=-25*\sfac]ilWebLinkXmlWriter.east);
\draw[agg] (const.east) to[out=-20,in=90] ([xshift=-3*\sfac]l84.west) to[out=-90,in=0] ([yshift=-340*\sfac]ilObjUser.north east);
\draw[agg] (const.east) to[out=-30,in=90] ([xshift=-3*\sfac]l85.west) to[out=-90,in=0] ([yshift=-150*\sfac]ilWebLinkDatabaseRepository.north east);
\draw[agg] ([xshift=-10*\sfac]ilObjUser.north) -- ([xshift=5*\sfac]ilObject.south);
\draw[agg] ([yshift=-400*\sfac]ilObjUser.north east) -- ([yshift=-140*\sfac]ilWebLinkDatabaseRepository.north west);
\draw[agg] ([yshift=-70*\sfac]ilWebLinkDatabaseRepository.north west) -- ([yshift=-75*\sfac]ilObjLinkResource.north east);
\draw[agg] ([xshift=-15*\sfac]ilObjLinkResource.south) -- ([xshift=40*\sfac]ilWebLinkXmlWriter.north);
\draw[agg] (static.west) to[out=180,in=90] ([xshift=-3*\sfac]l90.west) to[out=-90,in=90] ([xshift=-35*\sfac]ilWebLinkXmlWriter.north);
\draw[agg] (ilDBInterface.south) to[out=-100,in=90] ([xshift=-3*\sfac]l91.west) to[out=-90,in=0] ([yshift=-225*\sfac]ilObject.north east);
\draw[agg] (ilDBInterface.south east) to[out=-60,in=90] ([xshift=-3*\sfac]l92.west) to[out=-90,in=0] ([yshift=-155*\sfac]ilWebLinkDatabaseRepository.north east);
\end{tikzpicture}
\end{document}
